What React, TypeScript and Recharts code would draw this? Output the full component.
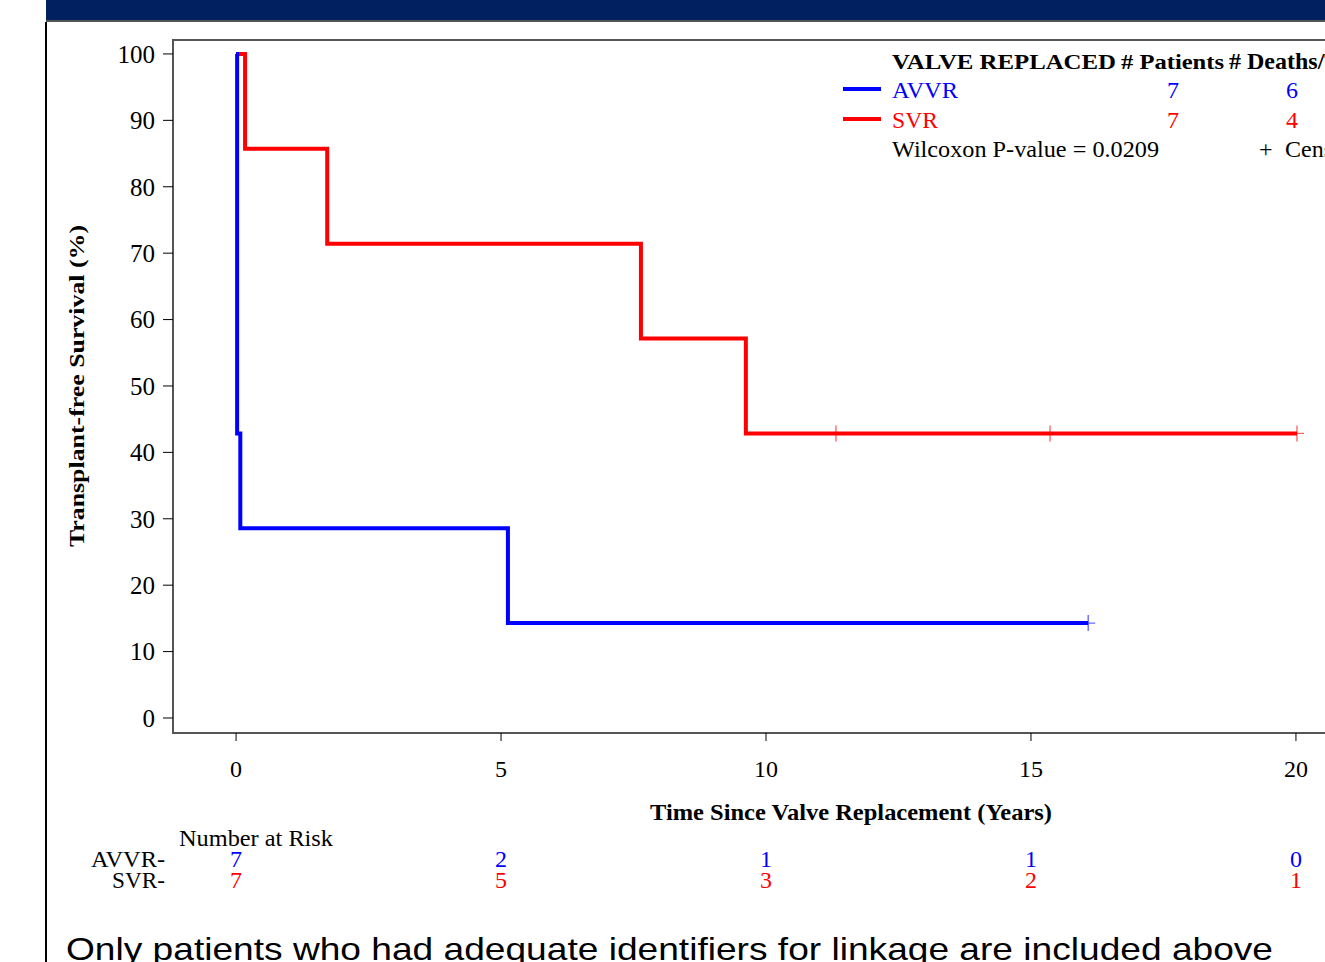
import React from 'react';
import { LineChart, Line, XAxis, YAxis, ReferenceArea } from 'recharts';

// Kaplan-Meier steps (years, % surviving)
const avvrTime = [0, 0.02, 0.08, 5.13, 16.08];
const avvrSurv = [100, 42.86, 28.57, 14.29, 14.29];
const avvrCensor = [0, 0, 0, 0, 1];

const svrTime = [0, 0.17, 1.72, 7.64, 9.62, 11.32, 15.36, 20.02];
const svrSurv = [100, 85.71, 71.43, 57.14, 42.86, 42.86, 42.86, 42.86];
const svrCensor = [0, 0, 0, 0, 0, 1, 1, 1];

const xTicks = [0, 5, 10, 15, 20];
const yTicks = [0, 10, 20, 30, 40, 50, 60, 70, 80, 90, 100];

const avvrAtRisk = [7, 2, 1, 1, 0];
const svrAtRisk = [7, 5, 3, 2, 1];

const groupNames = ['AVVR', 'SVR'];
const groupPatients = [7, 7];
const groupDeaths = [6, 4];
const pValue = '0.0209';

const BLUE = '#0000ff';
const RED = '#ff0000';
const SERIF = "'Liberation Serif', 'Times New Roman', serif";

const toRows = (time: number[], surv: number[], cens: number[]) =>
  time.map((t, i) => ({ t, s: surv[i], c: cens[i] }));

const avvrData = toRows(avvrTime, avvrSurv, avvrCensor);
const svrData = toRows(svrTime, svrSurv, svrCensor);

const censorDot = (color: string) => (props: any) => {
  const { cx, cy, payload, index } = props;
  if (!payload || !payload.c) return <g key={`d-${index}`} />;
  return (
    <path
      key={`d-${index}`}
      d={`M${cx - 7},${cy}H${cx + 7}M${cx},${cy - 8}V${cy + 8}`}
      stroke={color}
      strokeWidth={1.4}
      strokeOpacity={0.6}
      fill="none"
    />
  );
};

const XTick = (props: any) => {
  const { x, y, payload } = props;
  const i = xTicks.indexOf(payload.value);
  return (
    <g fontFamily={SERIF} fontSize={24} textAnchor="middle">
      <text x={x} y={y + 36} fill="#000">{payload.value}</text>
      <text x={x} y={y + 126} fill={BLUE}>{avvrAtRisk[i]}</text>
      <text x={x} y={y + 147} fill={RED}>{svrAtRisk[i]}</text>
    </g>
  );
};

export default function App() {
  return (
    <div
      style={{
        position: 'fixed',
        left: 0,
        top: 0,
        width: 1325,
        height: 962,
        overflow: 'hidden',
        background: '#fff',
      }}
    >
      <div style={{ position: 'absolute', left: 46, top: 0, width: 1300, height: 20, background: '#002060' }} />
      <div style={{ position: 'absolute', left: 46, top: 20, width: 1300, height: 2, background: '#555' }} />
      <div style={{ position: 'absolute', left: 45, top: 22, width: 2, height: 940, background: '#000' }} />

      <div style={{ position: 'absolute', left: 0, top: 0 }}>
        <LineChart width={1400} height={962} margin={{ top: 40, right: 41, left: 0, bottom: 0 }}>
          <XAxis
            type="number"
            dataKey="t"
            domain={[-1.19, 21.19]}
            allowDataOverflow
            ticks={xTicks}
            height={229}
            tickSize={8}
            tickMargin={0}
            tickLine={{ stroke: '#000' }}
            axisLine={{ stroke: '#555', strokeWidth: 2 }}
            tick={<XTick />}
          />
          <YAxis
            type="number"
            dataKey="s"
            domain={[-2.26, 102.1]}
            allowDataOverflow
            ticks={yTicks}
            width={173}
            tickSize={10}
            tickMargin={8}
            tickLine={{ stroke: '#000' }}
            axisLine={{ stroke: '#555', strokeWidth: 2 }}
            tick={{ fontSize: 25, fill: '#000', fontFamily: SERIF }}
          />
          <ReferenceArea
            x1={-1.19}
            x2={21.19}
            y1={-2.26}
            y2={102.1}
            fill="none"
            stroke="#555"
            strokeWidth={2}
          />
          <Line
            data={svrData}
            dataKey="s"
            type="stepAfter"
            stroke={RED}
            strokeWidth={4}
            dot={censorDot(RED)}
            activeDot={false}
            isAnimationActive={false}
          />
          <Line
            data={avvrData}
            dataKey="s"
            type="stepAfter"
            stroke={BLUE}
            strokeWidth={4}
            dot={censorDot(BLUE)}
            activeDot={false}
            isAnimationActive={false}
          />
        </LineChart>
      </div>

      <svg
        width={1325}
        height={962}
        style={{ position: 'absolute', left: 0, top: 0, pointerEvents: 'none' }}
        fontFamily={SERIF}
      >
        {/* legend */}
        <g fontWeight="bold" fontSize={22} fill="#000">
          <text x={892} y={69} textLength={224} lengthAdjust="spacingAndGlyphs">VALVE REPLACED</text>
          <text x={1121} y={69} textLength={103} lengthAdjust="spacingAndGlyphs"># Patients</text>
          <text x={1229} y={69} fontSize={24}># Deaths/Transplants</text>
        </g>
        {groupNames.map((name, i) => {
          const color = i === 0 ? BLUE : RED;
          const y = 98 + i * 30;
          return (
            <g key={name} fontSize={24} fill={color}>
              <line x1={843} x2={881} y1={y - 9} y2={y - 9} stroke={color} strokeWidth={4} />
              <text x={892} y={y} textLength={i === 0 ? 66 : 46} lengthAdjust="spacingAndGlyphs">{name}</text>
              <text x={1173} y={y} textAnchor="middle">{groupPatients[i]}</text>
              <text x={1292} y={y} textAnchor="middle">{groupDeaths[i]}</text>
            </g>
          );
        })}
        <text x={892} y={157} fontSize={24} textLength={267} lengthAdjust="spacingAndGlyphs">
          {`Wilcoxon P-value = ${pValue}`}
        </text>
        <text x={1259} y={157} fontSize={24}>+</text>
        <text x={1285} y={157} fontSize={24}>Censored</text>

        {/* axis titles */}
        <text
          transform="translate(84,386) rotate(-90)"
          textAnchor="middle"
          fontWeight="bold"
          fontSize={22}
          textLength={322}
          lengthAdjust="spacingAndGlyphs"
        >
          Transplant-free Survival (%)
        </text>
        <text
          x={851}
          y={820}
          textAnchor="middle"
          fontWeight="bold"
          fontSize={23}
          textLength={402}
          lengthAdjust="spacingAndGlyphs"
        >
          Time Since Valve Replacement (Years)
        </text>

        {/* number at risk */}
        <text x={179} y={846} fontSize={24} textLength={154} lengthAdjust="spacingAndGlyphs">Number at Risk</text>
        <text x={165} y={867} fontSize={24} textAnchor="end" textLength={74} lengthAdjust="spacingAndGlyphs">AVVR-</text>
        <text x={165} y={888} fontSize={24} textAnchor="end" textLength={53} lengthAdjust="spacingAndGlyphs">SVR-</text>

        <text
          x={66}
          y={960}
          fontFamily="'Liberation Sans', Arial, sans-serif"
          fontSize={32}
          textLength={1207}
          lengthAdjust="spacingAndGlyphs"
        >
          Only patients who had adequate identifiers for linkage are included above
        </text>
      </svg>
    </div>
  );
}
